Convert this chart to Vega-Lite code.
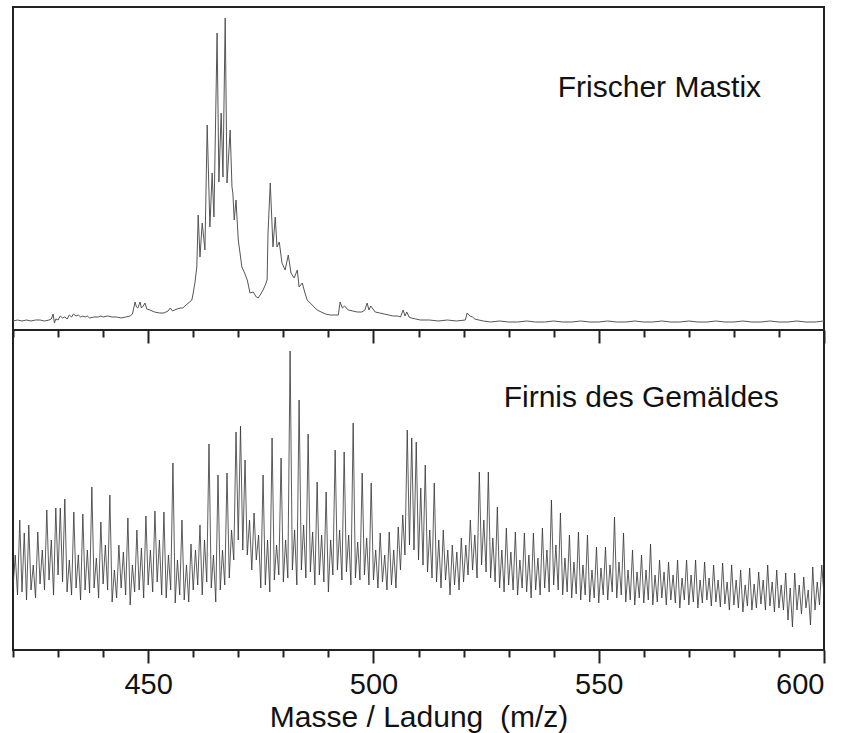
{
  "$schema": "https://vega.github.io/schema/vega-lite/v6.json",
  "padding": {"left": 11, "top": 6, "right": 5, "bottom": 0},
  "background": "white",
  "spacing": 0,
  "bounds": "flush",
  "config": {
    "font": "Liberation Sans",
    "view": {"stroke": "#222", "strokeWidth": 2},
    "axis": {"grid": false}
  },
  "datasets": {
    "top": [
      {"m":420,"i":9},{"m":421,"i":10},{"m":422,"i":9},{"m":423,"i":10},{"m":424,"i":9},{"m":425,"i":10},{"m":426,"i":10},{"m":427,"i":9},{"m":428,"i":10},{"m":428.5,"i":11},{"m":428.9,"i":16},{"m":429.2,"i":7},{"m":429.5,"i":11},{"m":430,"i":10},{"m":430.5,"i":14},{"m":431,"i":12},{"m":431.5,"i":13},{"m":432,"i":11},{"m":432.5,"i":15},{"m":433,"i":13},{"m":433.4,"i":16},{"m":434,"i":14},{"m":434.5,"i":15},{"m":435,"i":13},{"m":435.5,"i":14},{"m":436,"i":13},{"m":436.5,"i":14},{"m":437,"i":12},{"m":438,"i":13},{"m":439,"i":13},{"m":439.5,"i":14},{"m":440,"i":13},{"m":441,"i":14},{"m":442,"i":13},{"m":443,"i":13},{"m":444,"i":12},{"m":445,"i":13},{"m":446,"i":14},{"m":446.5,"i":16},{"m":447.1,"i":28},{"m":447.4,"i":23},{"m":447.7,"i":22},{"m":448.2,"i":28},{"m":448.5,"i":22},{"m":448.9,"i":24},{"m":449.3,"i":27},{"m":449.7,"i":21},{"m":450.4,"i":20},{"m":451.4,"i":18},{"m":452.6,"i":17},{"m":453.5,"i":17},{"m":454.4,"i":19},{"m":454.9,"i":22},{"m":455.4,"i":19},{"m":456.4,"i":21},{"m":457.1,"i":22},{"m":457.7,"i":22},{"m":458.4,"i":25},{"m":459.2,"i":28},{"m":459.7,"i":30},{"m":460,"i":37},{"m":460.4,"i":48},{"m":460.8,"i":63},{"m":461.1,"i":115},{"m":461.5,"i":73},{"m":462,"i":107},{"m":462.6,"i":80},{"m":463.1,"i":205},{"m":463.7,"i":103},{"m":464.2,"i":157},{"m":464.6,"i":113},{"m":465.3,"i":297},{"m":465.7,"i":148},{"m":466.2,"i":217},{"m":466.6,"i":153},{"m":467.1,"i":312},{"m":467.5,"i":147},{"m":468.2,"i":200},{"m":468.6,"i":143},{"m":468.8,"i":137},{"m":469.1,"i":110},{"m":469.5,"i":130},{"m":470,"i":90},{"m":470.8,"i":63},{"m":471.4,"i":57},{"m":472,"i":50},{"m":472.6,"i":37},{"m":473.3,"i":38},{"m":474,"i":33},{"m":474.4,"i":32},{"m":475,"i":36},{"m":475.5,"i":40},{"m":476,"i":45},{"m":476.4,"i":50},{"m":476.6,"i":97},{"m":477.1,"i":147},{"m":477.7,"i":83},{"m":478.2,"i":113},{"m":478.6,"i":83},{"m":479.1,"i":88},{"m":479.7,"i":67},{"m":480.4,"i":60},{"m":481.1,"i":75},{"m":481.7,"i":57},{"m":482.4,"i":52},{"m":483.1,"i":60},{"m":483.5,"i":43},{"m":484.2,"i":47},{"m":484.8,"i":37},{"m":485.3,"i":30},{"m":486.4,"i":25},{"m":487.5,"i":20},{"m":488.4,"i":18},{"m":489.4,"i":16},{"m":490.4,"i":15},{"m":491.4,"i":15},{"m":492.2,"i":15},{"m":492.6,"i":28},{"m":493.1,"i":22},{"m":493.6,"i":24},{"m":494.4,"i":20},{"m":495.4,"i":19},{"m":496.4,"i":18},{"m":497.4,"i":18},{"m":498.1,"i":20},{"m":498.6,"i":27},{"m":499,"i":20},{"m":499.4,"i":24},{"m":500.4,"i":18},{"m":501.4,"i":17},{"m":502.4,"i":16},{"m":503.4,"i":15},{"m":504.4,"i":14},{"m":505.4,"i":14},{"m":506,"i":13},{"m":506.6,"i":20},{"m":507,"i":14},{"m":507.4,"i":18},{"m":507.9,"i":13},{"m":508.4,"i":12},{"m":509.4,"i":11},{"m":510.4,"i":10},{"m":512.4,"i":10},{"m":514.4,"i":9},{"m":516.4,"i":10},{"m":518.4,"i":9},{"m":520.4,"i":10},{"m":520.8,"i":17},{"m":521.4,"i":14},{"m":522,"i":13},{"m":522.5,"i":11},{"m":523.4,"i":10},{"m":524.4,"i":9},{"m":526,"i":8},{"m":528,"i":9},{"m":530,"i":8},{"m":532,"i":8},{"m":534,"i":9},{"m":536,"i":8},{"m":538,"i":8},{"m":540,"i":9},{"m":542,"i":8},{"m":544,"i":8},{"m":546,"i":9},{"m":548,"i":8},{"m":550,"i":8},{"m":552,"i":9},{"m":554,"i":8},{"m":556,"i":8},{"m":558,"i":9},{"m":560,"i":8},{"m":562,"i":8},{"m":564,"i":9},{"m":566,"i":8},{"m":568,"i":8},{"m":570,"i":9},{"m":572,"i":8},{"m":574,"i":8},{"m":576,"i":9},{"m":578,"i":8},{"m":580,"i":8},{"m":582,"i":9},{"m":584,"i":8},{"m":586,"i":8},{"m":588,"i":9},{"m":590,"i":8},{"m":592,"i":8},{"m":594,"i":9},{"m":596,"i":8},{"m":598,"i":8},{"m":600,"i":9}
    ],
    "bot": [
      {"m":420,"i":62},{"m":420.5,"i":95},{"m":421,"i":55},{"m":421.5,"i":130},{"m":422,"i":58},{"m":422.5,"i":117},{"m":423,"i":50},{"m":423.5,"i":125},{"m":424,"i":60},{"m":424.5,"i":85},{"m":425,"i":52},{"m":425.5,"i":118},{"m":426,"i":66},{"m":426.5,"i":100},{"m":427,"i":60},{"m":427.5,"i":140},{"m":428,"i":70},{"m":428.5,"i":110},{"m":429,"i":55},{"m":429.5,"i":142},{"m":430,"i":75},{"m":430.5,"i":142},{"m":431,"i":68},{"m":431.5,"i":151},{"m":432,"i":58},{"m":432.5,"i":90},{"m":433,"i":55},{"m":433.5,"i":138},{"m":434,"i":62},{"m":434.5,"i":95},{"m":435,"i":50},{"m":435.5,"i":136},{"m":436,"i":60},{"m":436.5,"i":100},{"m":437,"i":57},{"m":437.5,"i":163},{"m":438,"i":62},{"m":438.5,"i":92},{"m":439,"i":52},{"m":439.5,"i":128},{"m":440,"i":66},{"m":440.5,"i":105},{"m":441,"i":60},{"m":441.5,"i":155},{"m":442,"i":48},{"m":442.5,"i":80},{"m":443,"i":52},{"m":443.5,"i":105},{"m":444,"i":62},{"m":444.5,"i":98},{"m":445,"i":55},{"m":445.5,"i":132},{"m":446,"i":45},{"m":446.5,"i":85},{"m":447,"i":58},{"m":447.5,"i":120},{"m":448,"i":60},{"m":448.5,"i":102},{"m":449,"i":52},{"m":449.5,"i":134},{"m":450,"i":65},{"m":450.5,"i":100},{"m":451,"i":58},{"m":451.5,"i":139},{"m":452,"i":68},{"m":452.5,"i":110},{"m":453,"i":55},{"m":453.5,"i":138},{"m":454,"i":52},{"m":454.5,"i":95},{"m":455,"i":60},{"m":455.5,"i":187},{"m":456,"i":47},{"m":456.5,"i":90},{"m":457,"i":55},{"m":457.5,"i":130},{"m":458,"i":50},{"m":458.5,"i":85},{"m":459,"i":48},{"m":459.5,"i":106},{"m":460,"i":60},{"m":460.5,"i":100},{"m":461,"i":65},{"m":461.5,"i":125},{"m":462,"i":55},{"m":462.5,"i":110},{"m":463,"i":68},{"m":463.5,"i":206},{"m":464,"i":62},{"m":464.5,"i":95},{"m":465,"i":48},{"m":465.5,"i":175},{"m":466,"i":60},{"m":466.5,"i":100},{"m":467,"i":65},{"m":467.5,"i":177},{"m":468,"i":72},{"m":468.5,"i":120},{"m":469,"i":90},{"m":469.5,"i":218},{"m":470,"i":110},{"m":470.5,"i":224},{"m":471,"i":100},{"m":471.5,"i":190},{"m":472,"i":95},{"m":472.5,"i":130},{"m":473,"i":80},{"m":473.5,"i":137},{"m":474,"i":90},{"m":474.5,"i":115},{"m":475,"i":62},{"m":475.5,"i":175},{"m":476,"i":65},{"m":476.5,"i":110},{"m":477,"i":58},{"m":477.5,"i":212},{"m":478,"i":70},{"m":478.5,"i":105},{"m":479,"i":75},{"m":479.5,"i":192},{"m":480,"i":68},{"m":480.5,"i":110},{"m":481,"i":72},{"m":481.5,"i":299},{"m":482,"i":80},{"m":482.5,"i":120},{"m":483,"i":65},{"m":483.5,"i":250},{"m":484,"i":80},{"m":484.5,"i":125},{"m":485,"i":72},{"m":485.5,"i":216},{"m":486,"i":78},{"m":486.5,"i":118},{"m":487,"i":65},{"m":487.5,"i":168},{"m":488,"i":75},{"m":488.5,"i":115},{"m":489,"i":68},{"m":489.5,"i":158},{"m":490,"i":58},{"m":490.5,"i":110},{"m":491,"i":75},{"m":491.5,"i":200},{"m":492,"i":80},{"m":492.5,"i":120},{"m":493,"i":70},{"m":493.5,"i":198},{"m":494,"i":78},{"m":494.5,"i":115},{"m":495,"i":65},{"m":495.5,"i":227},{"m":496,"i":72},{"m":496.5,"i":108},{"m":497,"i":70},{"m":497.5,"i":177},{"m":498,"i":75},{"m":498.5,"i":112},{"m":499,"i":65},{"m":499.5,"i":167},{"m":500,"i":70},{"m":500.5,"i":100},{"m":501,"i":62},{"m":501.5,"i":117},{"m":502,"i":68},{"m":502.5,"i":95},{"m":503,"i":60},{"m":503.5,"i":118},{"m":504,"i":65},{"m":504.5,"i":100},{"m":505,"i":62},{"m":505.5,"i":123},{"m":506,"i":80},{"m":506.5,"i":135},{"m":507,"i":95},{"m":507.5,"i":220},{"m":508,"i":105},{"m":508.5,"i":212},{"m":509,"i":100},{"m":509.5,"i":208},{"m":510,"i":90},{"m":510.5,"i":162},{"m":511,"i":85},{"m":511.5,"i":185},{"m":512,"i":78},{"m":512.5,"i":120},{"m":513,"i":72},{"m":513.5,"i":167},{"m":514,"i":68},{"m":514.5,"i":110},{"m":515,"i":62},{"m":515.5,"i":120},{"m":516,"i":70},{"m":516.5,"i":100},{"m":517,"i":55},{"m":517.5,"i":105},{"m":518,"i":65},{"m":518.5,"i":98},{"m":519,"i":60},{"m":519.5,"i":112},{"m":520,"i":68},{"m":520.5,"i":105},{"m":521,"i":75},{"m":521.5,"i":130},{"m":522,"i":80},{"m":522.5,"i":115},{"m":523,"i":72},{"m":523.5,"i":178},{"m":524,"i":85},{"m":524.5,"i":130},{"m":525,"i":78},{"m":525.5,"i":178},{"m":526,"i":72},{"m":526.5,"i":112},{"m":527,"i":68},{"m":527.5,"i":143},{"m":528,"i":62},{"m":528.5,"i":100},{"m":529,"i":58},{"m":529.5,"i":122},{"m":530,"i":65},{"m":530.5,"i":98},{"m":531,"i":60},{"m":531.5,"i":118},{"m":532,"i":55},{"m":532.5,"i":90},{"m":533,"i":62},{"m":533.5,"i":117},{"m":534,"i":58},{"m":534.5,"i":95},{"m":535,"i":52},{"m":535.5,"i":117},{"m":536,"i":60},{"m":536.5,"i":92},{"m":537,"i":55},{"m":537.5,"i":122},{"m":538,"i":62},{"m":538.5,"i":100},{"m":539,"i":58},{"m":539.5,"i":150},{"m":540,"i":65},{"m":540.5,"i":105},{"m":541,"i":60},{"m":541.5,"i":137},{"m":542,"i":55},{"m":542.5,"i":92},{"m":543,"i":58},{"m":543.5,"i":115},{"m":544,"i":52},{"m":544.5,"i":88},{"m":545,"i":56},{"m":545.5,"i":118},{"m":546,"i":50},{"m":546.5,"i":85},{"m":547,"i":55},{"m":547.5,"i":115},{"m":548,"i":48},{"m":548.5,"i":80},{"m":549,"i":52},{"m":549.5,"i":103},{"m":550,"i":47},{"m":550.5,"i":82},{"m":551,"i":55},{"m":551.5,"i":103},{"m":552,"i":50},{"m":552.5,"i":85},{"m":553,"i":58},{"m":553.5,"i":133},{"m":554,"i":52},{"m":554.5,"i":88},{"m":555,"i":55},{"m":555.5,"i":117},{"m":556,"i":48},{"m":556.5,"i":80},{"m":557,"i":50},{"m":557.5,"i":100},{"m":558,"i":45},{"m":558.5,"i":78},{"m":559,"i":52},{"m":559.5,"i":95},{"m":560,"i":47},{"m":560.5,"i":80},{"m":561,"i":50},{"m":561.5,"i":106},{"m":562,"i":45},{"m":562.5,"i":75},{"m":563,"i":48},{"m":563.5,"i":90},{"m":564,"i":52},{"m":564.5,"i":78},{"m":565,"i":45},{"m":565.5,"i":88},{"m":566,"i":50},{"m":566.5,"i":75},{"m":567,"i":47},{"m":567.5,"i":90},{"m":568,"i":42},{"m":568.5,"i":72},{"m":569,"i":50},{"m":569.5,"i":90},{"m":570,"i":45},{"m":570.5,"i":75},{"m":571,"i":48},{"m":571.5,"i":90},{"m":572,"i":42},{"m":572.5,"i":70},{"m":573,"i":47},{"m":573.5,"i":88},{"m":574,"i":50},{"m":574.5,"i":72},{"m":575,"i":44},{"m":575.5,"i":85},{"m":576,"i":48},{"m":576.5,"i":70},{"m":577,"i":43},{"m":577.5,"i":87},{"m":578,"i":46},{"m":578.5,"i":68},{"m":579,"i":40},{"m":579.5,"i":85},{"m":580,"i":45},{"m":580.5,"i":70},{"m":581,"i":42},{"m":581.5,"i":80},{"m":582,"i":38},{"m":582.5,"i":65},{"m":583,"i":44},{"m":583.5,"i":82},{"m":584,"i":40},{"m":584.5,"i":66},{"m":585,"i":42},{"m":585.5,"i":78},{"m":586,"i":46},{"m":586.5,"i":70},{"m":587,"i":40},{"m":587.5,"i":85},{"m":588,"i":44},{"m":588.5,"i":68},{"m":589,"i":38},{"m":589.5,"i":80},{"m":590,"i":42},{"m":590.5,"i":65},{"m":591,"i":40},{"m":591.5,"i":77},{"m":592,"i":30},{"m":592.5,"i":62},{"m":593,"i":23},{"m":593.5,"i":77},{"m":594,"i":40},{"m":594.5,"i":65},{"m":595,"i":36},{"m":595.5,"i":73},{"m":596,"i":42},{"m":596.5,"i":60},{"m":597,"i":25},{"m":597.5,"i":83},{"m":598,"i":40},{"m":598.5,"i":68},{"m":599,"i":45},{"m":599.5,"i":85},{"m":600,"i":55}
    ]
  },
  "vconcat": [
    {
      "width": 811,
      "height": 323,
      "layer": [
        {
          "data": {"name": "top"},
          "mark": {"type": "line", "color": "#555", "strokeWidth": 1, "clip": true},
          "encoding": {
            "x": {
              "field": "m", "type": "quantitative",
              "scale": {"domain": [420, 600], "nice": false, "zero": false},
              "axis": {
                "orient": "bottom",
                "values": [420,430,440,450,460,470,480,490,500,510,520,530,540,550,560,570,580,590,600],
                "tickSize": {"condition": {"test": "datum.value % 50 === 0", "value": 13}, "value": 7},
                "tickWidth": 2, "tickColor": "#222",
                "labels": false, "domain": false, "title": null
              }
            },
            "y": {
              "field": "i", "type": "quantitative",
              "scale": {"domain": [0, 323], "nice": false, "zero": false},
              "axis": null
            }
          }
        },
        {
          "data": {"values": [{"label": "Frischer Mastix"}]},
          "mark": {"type": "text", "fontSize": 30, "align": "left", "baseline": "alphabetic", "color": "#111", "font": "Liberation Sans"},
          "encoding": {
            "x": {"datum": 540.9, "type": "quantitative"},
            "y": {"datum": 233, "type": "quantitative"},
            "text": {"field": "label"}
          }
        }
      ]
    },
    {
      "width": 811,
      "height": 320,
      "layer": [
        {
          "data": {"name": "bot"},
          "mark": {"type": "line", "color": "#333", "strokeWidth": 0.8, "clip": true},
          "encoding": {
            "x": {
              "field": "m", "type": "quantitative",
              "scale": {"domain": [420, 600], "nice": false, "zero": false},
              "axis": {
                "orient": "bottom",
                "values": [420,430,440,450,460,470,480,490,500,510,520,530,540,550,560,570,580,590,600],
                "tickSize": {"condition": {"test": "datum.value % 50 === 0", "value": 13}, "value": 7},
                "tickWidth": 2, "tickColor": "#222",
                "labelExpr": "datum.value % 50 === 0 ? datum.label : ''",
                "labelFontSize": 29, "labelColor": "#111", "labelFont": "Liberation Sans",
                "labelPadding": 7,
                "domain": false,
                "title": "Masse / Ladung\u00a0 (m/z)",
                "titleFontSize": 30, "titleFontWeight": "normal", "titleColor": "#111", "titleFont": "Liberation Sans",
                "titlePadding": 3
              }
            },
            "y": {
              "field": "i", "type": "quantitative",
              "scale": {"domain": [0, 320], "nice": false, "zero": false},
              "axis": null
            }
          }
        },
        {
          "data": {"values": [{"label": "Firnis des Gemäldes"}]},
          "mark": {"type": "text", "fontSize": 30, "align": "left", "baseline": "alphabetic", "color": "#111", "font": "Liberation Sans"},
          "encoding": {
            "x": {"datum": 528.9, "type": "quantitative"},
            "y": {"datum": 243, "type": "quantitative"},
            "text": {"field": "label"}
          }
        }
      ]
    }
  ]
}
